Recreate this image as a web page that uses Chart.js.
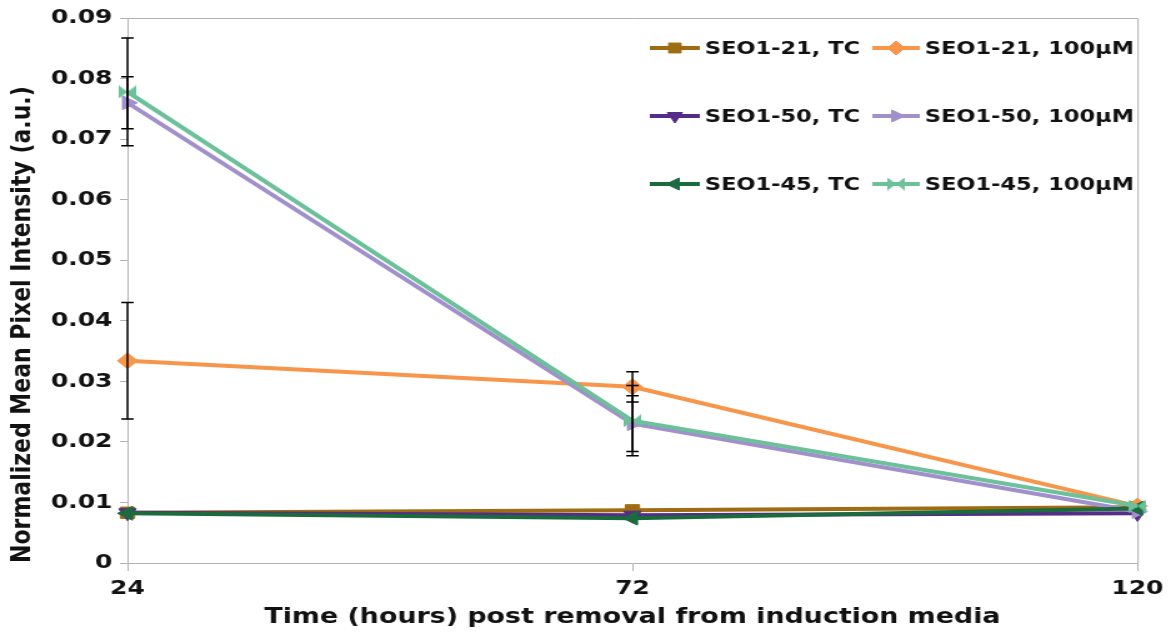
<!DOCTYPE html>
<html>
<head>
<meta charset="utf-8">
<script src="https://cdn.jsdelivr.net/npm/chart.js@4/dist/chart.umd.min.js"></script>
<style>
  html, body { margin: 0; padding: 0; background: #ffffff; }
</style>
</head>
<body>
<canvas id="chart" width="937" height="632" style="display:block;width:1171px;height:632px"></canvas>
<script>
// Sampling times (hours after removal from induction media)
const hours = ['24', '72', '120'];

// Mean pixel intensity per line and treatment
const seo21TC   = [0.0083, 0.0087, 0.0092];
const seo21Dose = [0.0334, 0.0291, 0.0094];
const seo50TC   = [0.0083, 0.0079, 0.0082];
const seo50Dose = [0.0760, 0.0230, 0.0085];
const seo45TC   = [0.0082, 0.0074, 0.0090];
const seo45Dose = [0.0778, 0.0235, 0.0094];

// Half-widths of the error bars (null = no bar)
const seo21DoseErr = [0.0096, 0.0025, null];
const seo50DoseErr = [0.0043, 0.0046, null];
const seo45DoseErr = [0.0089, 0.0058, null];

// Series names
const seriesNames = ['SEO1-21, TC', 'SEO1-21, 100\u00b5M', 'SEO1-50, TC', 'SEO1-50, 100\u00b5M', 'SEO1-45, TC', 'SEO1-45, 100\u00b5M'];

// Y axis range
const yMin = 0, yMax = 0.09, yStep = 0.01;

const FONT = '"DejaVu Sans", "Verdana", sans-serif';
const AXIS_GREY = '#b3b3b3';

// Bow-tie marker used for the SEO1-45 100µM series
function bowtie(color, w, h) {
  const c = document.createElement('canvas');
  c.width = w; c.height = h;
  const g = c.getContext('2d');
  g.fillStyle = color;
  g.beginPath();
  g.moveTo(0, 0); g.lineTo(w / 2, h / 2); g.lineTo(0, h); g.closePath();
  g.moveTo(w, 0); g.lineTo(w / 2, h / 2); g.lineTo(w, h); g.closePath();
  g.fill();
  return c;
}

function series(label, data, color, style, rotation, err, order) {
  return {
    label, data, errors: err,
    borderColor: color, backgroundColor: color,
    borderWidth: 4,
    pointStyle: style, pointRotation: rotation,
    pointRadius: 8, pointHoverRadius: 8,
    pointBorderWidth: 1, pointBorderColor: color, pointBackgroundColor: color,
    tension: 0, fill: false, order
  };
}

const datasets = [
  series(seriesNames[0], seo21TC,   '#9e6c12', 'rect',     0,   null,         6),
  series(seriesNames[1], seo21Dose, '#f7964a', 'rectRot',  0,   seo21DoseErr, 5),
  series(seriesNames[2], seo50TC,   '#552c88', 'triangle', 180, null,         4),
  series(seriesNames[3], seo50Dose, '#a290cc', 'triangle', 90,  seo50DoseErr, 3),
  series(seriesNames[4], seo45TC,   '#1c6b3e', 'triangle', 270, null,         2),
  series(seriesNames[5], seo45Dose, '#6cc09a', bowtie('#6cc09a', 14, 13), 0, seo45DoseErr, 1)
];

// Plot frame (top and right edges of the plot area)
const framePlugin = {
  id: 'frame',
  beforeDatasetsDraw(chart) {
    const { ctx, chartArea: a } = chart;
    ctx.save();
    ctx.strokeStyle = AXIS_GREY;
    ctx.lineWidth = 1;
    ctx.beginPath();
    ctx.moveTo(a.left, a.top + 0.5);
    ctx.lineTo(a.right + 0.5, a.top + 0.5);
    ctx.lineTo(a.right + 0.5, a.bottom);
    ctx.stroke();
    ctx.restore();
  }
};

// Vertical error bars with caps
const errorBarPlugin = {
  id: 'errorBars',
  afterDatasetsDraw(chart) {
    const { ctx } = chart;
    const ys = chart.scales.y;
    ctx.save();
    ctx.strokeStyle = '#000000';
    ctx.lineWidth = 1.5;
    chart.data.datasets.forEach((ds, di) => {
      if (!ds.errors) return;
      const meta = chart.getDatasetMeta(di);
      ds.errors.forEach((e, i) => {
        if (e == null) return;
        const x = meta.data[i].x;
        const top = ys.getPixelForValue(ds.data[i] + e);
        const bot = ys.getPixelForValue(ds.data[i] - e);
        ctx.beginPath();
        ctx.moveTo(x, top); ctx.lineTo(x, bot);
        ctx.moveTo(x - 5, top); ctx.lineTo(x + 5, top);
        ctx.moveTo(x - 5, bot); ctx.lineTo(x + 5, bot);
        ctx.stroke();
      });
    });
    ctx.restore();
  }
};

// Two-column legend inside the plot area
const legendPlugin = {
  id: 'insideLegend',
  afterDraw(chart) {
    const { ctx } = chart;
    const cols = [{ x0: 520, x1: 560, tx: 564 }, { x0: 698, x1: 736, tx: 740 }];
    const rows = [48, 116, 184];
    const drawPoint = Chart.helpers.drawPoint;
    ctx.save();
    chart.data.datasets.forEach((ds, i) => {
      const c = cols[i % 2];
      const y = rows[Math.floor(i / 2)];
      ctx.strokeStyle = ds.borderColor;
      ctx.lineWidth = 4;
      ctx.beginPath();
      ctx.moveTo(c.x0, y); ctx.lineTo(c.x1, y);
      ctx.stroke();
      ctx.fillStyle = ds.borderColor;
      ctx.lineWidth = 1;
      drawPoint(ctx, { pointStyle: ds.pointStyle, rotation: ds.pointRotation, radius: 7, borderWidth: 1 },
        (c.x0 + c.x1) / 2, y);
      ctx.fillStyle = '#111111';
      ctx.font = 'bold 18px ' + FONT;
      ctx.textAlign = 'left';
      ctx.textBaseline = 'middle';
      ctx.fillText(ds.label, c.tx, y + 1);
    });
    ctx.restore();
  }
};

new Chart(document.getElementById('chart'), {
  type: 'line',
  data: { labels: hours, datasets },
  plugins: [framePlugin, errorBarPlugin, legendPlugin],
  options: {
    responsive: false,
    devicePixelRatio: 1,
    animation: false,
    layout: { padding: { top: 18, right: 25, left: 0, bottom: 0 } },
    plugins: { legend: { display: false }, tooltip: { enabled: false } },
    scales: {
      x: {
        type: 'category',
        offset: false,
        grid: { display: true, drawOnChartArea: false, drawTicks: true, tickLength: 8, color: AXIS_GREY },
        border: { display: true, color: AXIS_GREY, width: 1 },
        ticks: { color: '#111111', font: { family: FONT, size: 20, weight: 'bold' }, padding: 6, maxRotation: 0 },
        title: {
          display: true,
          text: 'Time (hours) post removal from induction media',
          color: '#111111',
          font: { family: FONT, size: 21.5, weight: 'bold' },
          padding: { top: 0, bottom: 2 }
        },
        afterFit(scale) { scale.height = 69; }
      },
      y: {
        min: yMin, max: yMax,
        grid: { display: true, drawOnChartArea: false, drawTicks: true, tickLength: 6, color: AXIS_GREY },
        border: { display: true, color: AXIS_GREY, width: 1 },
        ticks: {
          stepSize: yStep,
          color: '#111111',
          font: { family: FONT, size: 20, weight: 'bold' },
          padding: 6,
          callback: v => (Math.abs(v) < 1e-9 ? '0' : Number(v).toFixed(2))
        },
        title: {
          display: true,
          text: 'Normalized Mean Pixel Intensity (a.u.)',
          align: 'start',
          color: '#111111',
          font: { family: FONT, size: 22, weight: 'bold' },
          padding: { top: 5, bottom: 0 }
        },
        afterFit(scale) { scale.width = 102; }
      }
    }
  }
});
</script>
</body>
</html>
